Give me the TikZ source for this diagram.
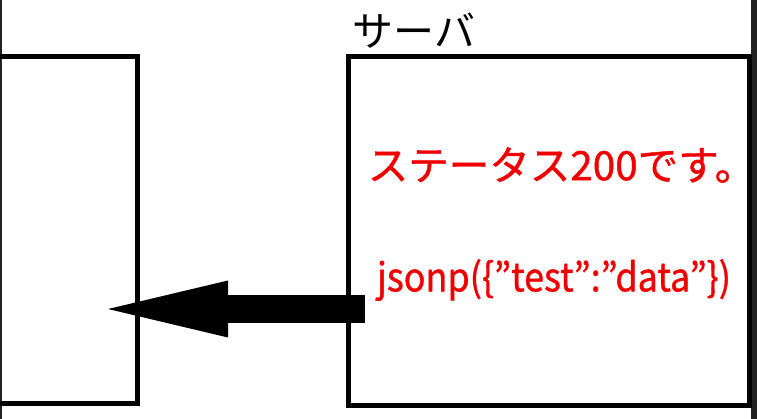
\documentclass[tikz,border=0pt]{standalone}
\usepackage{fontspec}
\newfontfamily\jpfont{Noto Sans CJK JP}
\newfontfamily\jpheavy[FakeBold=1.0]{Noto Sans CJK JP}
\usetikzlibrary{arrows.meta}
\definecolor{edgegray}{HTML}{222222}
\definecolor{msgred}{HTML}{F00000}
\tikzset{
  box/.style={draw=black, line width=5pt, inner sep=0pt},
  msg/.style={text=msgred, inner sep=0pt},
  bigarrow/.style={line width=28pt, line cap=butt,
    -{Triangle[length=120pt, width=57pt, line width=0pt]}}
}
\begin{document}
\begin{tikzpicture}[x=1pt, y=-1pt]
\useasboundingbox (0,0) rectangle (757,419);
\clip (0,0) rectangle (757,419);
% frame edges
\fill[edgegray] (0,0) rectangle (2,419);
\fill[edgegray] (751,0) rectangle (757,419);
% boxes
\node[box, minimum width=177pt, minimum height=347pt] (client) at (48.5,230) {};
\node[box, minimum width=400.5pt, minimum height=349pt] (server) at (548.75,231) {};
% labels
\node[inner sep=0pt, font=\jpfont\fontsize{41}{41}\selectfont] (title) at (414,31) {サーバ};
\node[msg, font=\jpheavy\fontsize{40.5}{40.5}\selectfont] (status) at (561.5,165) {ステータス200です。};
\node[msg, xscale=0.91, font=\jpheavy\fontsize{39.5}{39.5}\selectfont] (body) at (554,280) {jsonp(\{”test”:”data”\})};
% arrow
\coordinate (from) at (365,309);
\coordinate (to) at (108,309);
\draw[bigarrow] (from) -- (to);
\end{tikzpicture}
\end{document}
